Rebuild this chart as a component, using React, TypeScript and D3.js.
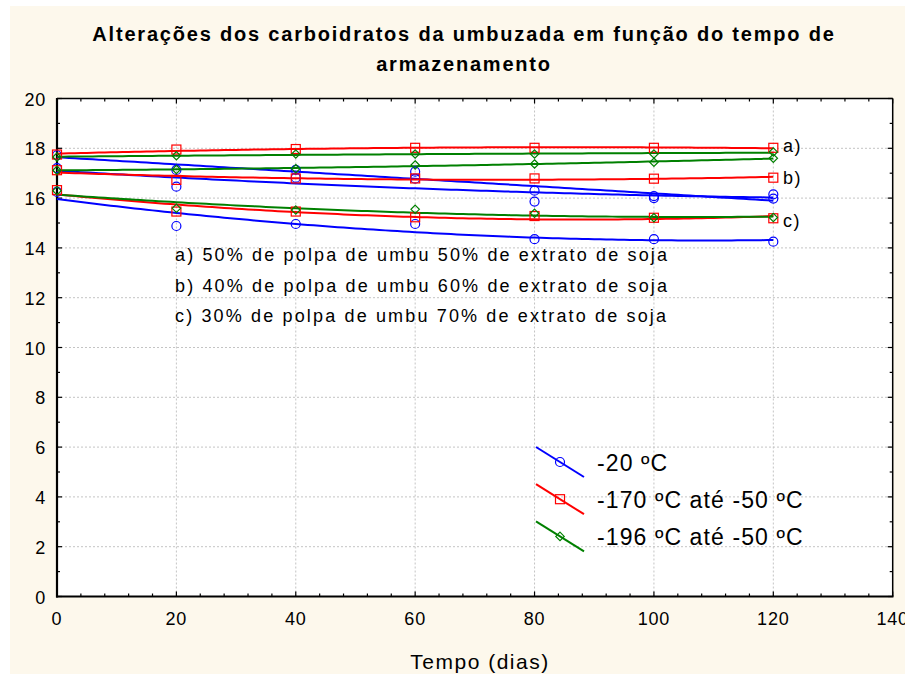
import React from "react";
import * as d3 from "d3";

// Storage time (days) at which carbohydrate content was measured
const dias = [0, 20, 40, 60, 80, 100, 120];

// Carbohydrate values (%) per storage temperature and formulation
// a) 50% umbu pulp, b) 40% umbu pulp, c) 30% umbu pulp
const menos20_a = [17.72, 17.13, 17.13, 17.06, 16.3, 16.08, 15.98];
const menos20_b = [17.2, 16.46, 16.82, 16.78, 15.86, 16.0, 16.15];
const menos20_c = [16.25, 14.88, 14.96, 14.96, 14.35, 14.35, 14.25];

const menos170_a = [17.75, 17.95, 17.97, 18.02, 18.02, 18.02, 18.02];
const menos170_b = [17.12, 16.73, 16.79, 16.79, 16.79, 16.78, 16.82];
const menos170_c = [16.32, 15.46, 15.46, 15.23, 15.28, 15.21, 15.19];

const menos196_a = [17.65, 17.7, 17.77, 17.77, 17.77, 17.77, 17.85];
const menos196_b = [17.12, 17.15, 17.18, 17.33, 17.37, 17.44, 17.6];
const menos196_c = [16.3, 15.59, 15.52, 15.55, 15.39, 15.21, 15.22];

const xTicks = [0, 20, 40, 60, 80, 100, 120, 140];
const yTicks = [0, 2, 4, 6, 8, 10, 12, 14, 16, 18, 20];

const legendLabels = ["-20 ºC", "-170 ºC até -50 ºC", "-196 ºC até -50 ºC"];
const notes = [
  "a) 50% de polpa de umbu 50% de extrato de soja",
  "b) 40% de polpa de umbu 60% de extrato de soja",
  "c) 30% de polpa de umbu 70% de extrato de soja",
];

type Marker = "circle" | "square" | "diamond";
const groups: { color: string; marker: Marker; series: number[][] }[] = [
  { color: "#0000ff", marker: "circle", series: [menos20_a, menos20_b, menos20_c] },
  { color: "#ff0000", marker: "square", series: [menos170_a, menos170_b, menos170_c] },
  { color: "#008000", marker: "diamond", series: [menos196_a, menos196_b, menos196_c] },
];

// Least-squares quadratic fit y = c0 + c1 x + c2 x^2
function quadFit(xs: number[], ys: number[]) {
  const n = xs.length;
  let s1 = 0, s2 = 0, s3 = 0, s4 = 0, t0 = 0, t1 = 0, t2 = 0;
  for (let i = 0; i < n; i++) {
    const x = xs[i], y = ys[i];
    s1 += x; s2 += x * x; s3 += x * x * x; s4 += x * x * x * x;
    t0 += y; t1 += x * y; t2 += x * x * y;
  }
  const M = [
    [n, s1, s2, t0],
    [s1, s2, s3, t1],
    [s2, s3, s4, t2],
  ];
  for (let c = 0; c < 3; c++) {
    let p = c;
    for (let r = c + 1; r < 3; r++) if (Math.abs(M[r][c]) > Math.abs(M[p][c])) p = r;
    [M[c], M[p]] = [M[p], M[c]];
    for (let r = 0; r < 3; r++) {
      if (r === c) continue;
      const f = M[r][c] / M[c][c];
      for (let k = c; k < 4; k++) M[r][k] -= f * M[c][k];
    }
  }
  const co = [M[0][3] / M[0][0], M[1][3] / M[1][1], M[2][3] / M[2][2]];
  return (x: number) => co[0] + co[1] * x + co[2] * x * x;
}

const W = 905;
const H = 680;
const left = 57;
const right = 892.7;
const top = 98.5;
const bottom = 596.5;

function MarkerShape({ kind, x, y, color }: { kind: Marker; x: number; y: number; color: string }) {
  if (kind === "circle") return <circle cx={x} cy={y} r={4.5} fill="none" stroke={color} strokeWidth={1.2} />;
  if (kind === "square")
    return <rect x={x - 4.5} y={y - 4.5} width={9} height={9} fill="none" stroke={color} strokeWidth={1.2} />;
  const s = 4.2;
  return (
    <path
      d={`M${x},${y - s}L${x + s},${y}L${x},${y + s}L${x - s},${y}Z`}
      fill="none"
      stroke={color}
      strokeWidth={1.2}
    />
  );
}

export default function App() {
  const x = d3.scaleLinear().domain([0, 140]).range([left, right]);
  const y = d3.scaleLinear().domain([0, 20]).range([bottom, top]);
  const line = d3.line<number>().x((d) => x(d));
  const fitXs = d3.range(0, 120.5, 1);

  const xMinor = d3.range(0, 141, 4).filter((v) => v % 20 !== 0);
  const yMinor = d3.range(1, 20, 2);
  const font = "'Liberation Sans', Arial, sans-serif";

  return (
    <svg
      width={W}
      height={H}
      style={{ position: "absolute", left: 0, top: 0 }}
      fontFamily={font}
    >
      <rect x={0} y={0} width={W} height={H} fill="#ffffff" />
      <rect x={10} y={6} width={W - 10} height={H - 12} fill="#fdf8ec" />
      <rect x={left} y={top} width={right - left} height={bottom - top} fill="#ffffff" />

      {/* title */}
      <text x={464} y={41} textAnchor="middle" fontWeight="bold" fontSize={20} letterSpacing={1.8} fill="#000">
        Alterações dos carboidratos da umbuzada em função do tempo de
      </text>
      <text x={464} y={71} textAnchor="middle" fontWeight="bold" fontSize={20} letterSpacing={1.8} fill="#000">
        armazenamento
      </text>

      {/* grid */}
      <g stroke="#c4c4c4" strokeWidth={1} strokeDasharray="2,2">
        {xTicks.filter((v) => v > 0 && v < 140).map((v) => (
          <line key={"gx" + v} x1={x(v)} x2={x(v)} y1={top} y2={bottom} />
        ))}
        {yTicks.filter((v) => v > 0 && v < 20).map((v) => (
          <line key={"gy" + v} x1={left} x2={right} y1={y(v)} y2={y(v)} />
        ))}
      </g>

      {/* ticks on all four sides, pointing inward */}
      <g stroke="#000" strokeWidth={1.2}>
        {xTicks.map((v) => (
          <g key={"tx" + v}>
            <line x1={x(v)} x2={x(v)} y1={bottom} y2={bottom - 5} />
            <line x1={x(v)} x2={x(v)} y1={top} y2={top + 5} />
          </g>
        ))}
        {xMinor.map((v) => (
          <g key={"mx" + v}>
            <line x1={x(v)} x2={x(v)} y1={bottom} y2={bottom - 3} />
            <line x1={x(v)} x2={x(v)} y1={top} y2={top + 3} />
          </g>
        ))}
        {yTicks.map((v) => (
          <g key={"ty" + v}>
            <line x1={left} x2={left + 5} y1={y(v)} y2={y(v)} />
            <line x1={right} x2={right - 5} y1={y(v)} y2={y(v)} />
          </g>
        ))}
        {yMinor.map((v) => (
          <g key={"my" + v}>
            <line x1={left} x2={left + 3} y1={y(v)} y2={y(v)} />
            <line x1={right} x2={right - 3} y1={y(v)} y2={y(v)} />
          </g>
        ))}
      </g>

      {/* frame */}
      <line x1={left} x2={right} y1={top} y2={top} stroke="#000" strokeWidth={1.5} />
      <line x1={right} x2={right} y1={top} y2={bottom} stroke="#000" strokeWidth={1.5} />
      <line x1={left} x2={left} y1={top - 0.5} y2={bottom + 1} stroke="#000" strokeWidth={2.2} />
      <line x1={left - 1} x2={right + 0.75} y1={bottom} y2={bottom} stroke="#000" strokeWidth={2.2} />

      {/* tick labels */}
      {xTicks.map((v) => (
        <text key={"lx" + v} x={x(v)} y={625} textAnchor="middle" fontSize={18} letterSpacing={0.8} fill="#000">
          {v}
        </text>
      ))}
      {yTicks.map((v) => (
        <text key={"ly" + v} x={46} y={y(v) + 7} textAnchor="end" fontSize={18} letterSpacing={0.8} fill="#000">
          {v}
        </text>
      ))}
      <text x={480} y={669} textAnchor="middle" fontSize={21} letterSpacing={1.5} fill="#000">
        Tempo (dias)
      </text>

      {/* fitted curves */}
      {groups.map((g, gi) =>
        g.series.map((s, si) => {
          const f = quadFit(dias, s);
          const path = line.y((d) => y(f(d)))(fitXs) || "";
          return <path key={`f${gi}${si}`} d={path} fill="none" stroke={g.color} strokeWidth={2} />;
        })
      )}

      {/* observed values */}
      {groups.map((g, gi) =>
        g.series.map((s, si) =>
          s.map((v, i) => (
            <MarkerShape key={`m${gi}${si}${i}`} kind={g.marker} x={x(dias[i])} y={y(v)} color={g.color} />
          ))
        )
      )}

      {/* formulation tags */}
      {["a)", "b)", "c)"].map((t, i) => (
        <text key={t} x={783} y={[151.5, 183.5, 226.5][i]} fontSize={18} letterSpacing={1.5} fill="#000">
          {t}
        </text>
      ))}

      {/* formulation notes */}
      {notes.map((t, i) => (
        <text key={t} x={175} y={261 + i * 30.7} fontSize={18} letterSpacing={2.15} fill="#000">
          {t}
        </text>
      ))}

      {/* legend */}
      {groups.map((g, i) => {
        const cy = 462 + i * 37.2;
        return (
          <g key={"lg" + i}>
            <line x1={536} x2={584} y1={cy - 15} y2={cy + 15} stroke={g.color} strokeWidth={2} />
            <MarkerShape kind={g.marker} x={560} y={cy} color={g.color} />
            <text x={597} y={cy + 9} fontSize={23} letterSpacing={1.1} fill="#000">
              {legendLabels[i]}
            </text>
          </g>
        );
      })}
    </svg>
  );
}
